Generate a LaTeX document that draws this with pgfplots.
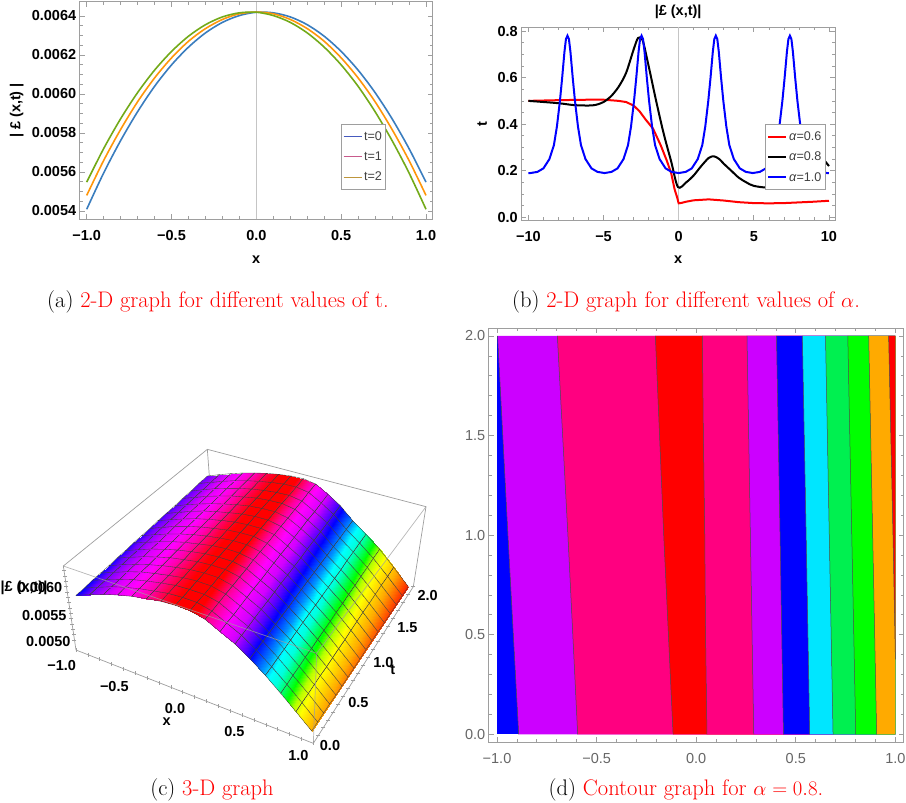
\documentclass[border=0pt]{standalone}
\usepackage{fontspec}
\usepackage{pgfplots}
\pgfplotsset{compat=1.18}
\newfontfamily\arial{Liberation Sans}
\newcommand\fB{\arial\bfseries\fontsize{14.5}{16}\selectfont}
\newcommand\fL{\arial\fontsize{12.6}{14}\selectfont}
\newcommand\fD{\arial\fontsize{14.5}{16}\selectfont}
\newcommand\fC{\fontsize{22.5}{26}\selectfont}
\definecolor{frame}{gray}{0.62}
\definecolor{cA}{RGB}{58,125,190}
\definecolor{cB}{RGB}{255,150,10}
\definecolor{cC}{RGB}{115,170,25}
\definecolor{lA}{RGB}{70,90,190}
\definecolor{lB}{RGB}{200,90,140}
\definecolor{lC}{RGB}{190,150,60}
\definecolor{cPurple}{RGB}{204,0,255}
\definecolor{cRose}{RGB}{255,0,128}
\definecolor{cCyan}{RGB}{0,230,255}
\definecolor{cGreenA}{RGB}{0,240,80}
\definecolor{cGreenB}{RGB}{0,255,0}
\definecolor{cOrange}{RGB}{255,170,0}
\pgfplotsset{
  panel/.style={
    scale only axis, axis line style={frame,line width=0.9pt},
    tick align=inside, tick style={frame,line width=0.7pt},
    major tick length=5pt, minor tick length=3pt,
    tick label style={font=\fB},
    xticklabel style={yshift=-8pt},
    legend cell align=left,
    legend image code/.code={\draw[##1] (0pt,0pt) -- (18pt,0pt);},
  },
}
\begin{document}
\begin{tikzpicture}[x=1pt,y=1pt]
\path[use as bounding box] (0,0) rectangle (906,-803);

% (a)
\begin{axis}[panel, at={(79.7pt,-219.3pt)}, anchor=south west, width=353pt, height=217.6pt,
  xmin=-1.0413, xmax=1.0395, ymin=0.0053574, ymax=0.006473,
  xtick={-1,-0.5,0,0.5,1}, xticklabels={−1.0,−0.5,0.0,0.5,1.0}, minor x tick num=4,
  ytick={0.0054,0.0056,0.0058,0.006,0.0062,0.0064},
  yticklabels={0.0054,0.0056,0.0058,0.0060,0.0062,0.0064}, minor y tick num=3,
  scaled y ticks=false,
  xlabel={x}, ylabel={| £ (x,t) |},
  every axis x label/.style={at={(axis description cs:0.5,0)},anchor=center,yshift=-40pt,font=\fB},
  every axis y label/.style={at={(axis description cs:-0.1785,0.5)},anchor=center,rotate=90,font=\fB},
  legend style={at={(axis description cs:0.7394,0.438)},anchor=north west,draw=frame,line width=0.8pt,
    font=\fL,text=black!75,row sep=6pt,inner xsep=2pt,inner ysep=5pt},
]
\addplot[frame!60,line width=0.6pt,forget plot] coordinates {(0,0.0053574)(0,0.006473)};
\addplot[cA,line width=1.6pt,smooth,forget plot] coordinates {
(-1,0.005409)(-0.9,0.005595)(-0.8,0.005761)(-0.7,0.005909)(-0.6,0.006039)(-0.5,0.006149)(-0.4,0.00624)
(-0.3,0.006313)(-0.2,0.006367)(-0.1,0.006402)(0,0.006419)(0.1,0.006416)(0.2,0.006395)(0.3,0.006355)
(0.4,0.006296)(0.5,0.006218)(0.6,0.006122)(0.7,0.006007)(0.8,0.005873)(0.9,0.00572)(1,0.005548)};
\addplot[cB,line width=1.6pt,smooth,forget plot] coordinates {
(-1,0.00548)(-0.9,0.005659)(-0.8,0.005818)(-0.7,0.00596)(-0.6,0.006082)(-0.5,0.006185)(-0.4,0.00627)
(-0.3,0.006335)(-0.2,0.006382)(-0.1,0.006411)(0,0.00642)(0.1,0.006411)(0.2,0.006382)(0.3,0.006335)
(0.4,0.00627)(0.5,0.006185)(0.6,0.006082)(0.7,0.00596)(0.8,0.005818)(0.9,0.005659)(1,0.00548)};
\addplot[cC,line width=1.6pt,smooth,forget plot] coordinates {
(-1,0.005548)(-0.9,0.00572)(-0.8,0.005873)(-0.7,0.006007)(-0.6,0.006122)(-0.5,0.006218)(-0.4,0.006296)
(-0.3,0.006355)(-0.2,0.006395)(-0.1,0.006416)(0,0.006419)(0.1,0.006402)(0.2,0.006367)(0.3,0.006313)
(0.4,0.00624)(0.5,0.006149)(0.6,0.006039)(0.7,0.005909)(0.8,0.005761)(0.9,0.005595)(1,0.005409)};
\addlegendimage{lA,line width=0.9pt}\addlegendentry{t=0\hspace{14pt}}
\addlegendimage{lB,line width=0.9pt}\addlegendentry{t=1\hspace{14pt}}
\addlegendimage{lC,line width=0.9pt}\addlegendentry{t=2\hspace{14pt}}
\end{axis}

% (b)
\begin{axis}[panel, at={(521.3pt,-220pt)}, anchor=south west, width=313.7pt, height=192.7pt,
  xmin=-10.47, xmax=10.4, ymin=-0.0116, ymax=0.8159,
  xtick={-10,-5,0,5,10}, xticklabels={−10,−5,0,5,10}, minor x tick num=4,
  ytick={0,0.2,0.4,0.6,0.8}, yticklabels={0.0,0.2,0.4,0.6,0.8}, minor y tick num=3,
  xlabel={x}, ylabel={t}, title={|£ (x,t)|},
  every axis x label/.style={at={(axis description cs:0.5,0)},anchor=center,yshift=-40pt,font=\fB},
  every axis y label/.style={at={(axis description cs:-0.1243,0.5)},anchor=center,rotate=90,font=\fB},
  every axis title/.style={at={(axis description cs:0.5,1)},anchor=center,yshift=15.3pt,font=\fB},
  legend style={at={(axis description cs:0.776,0.4966)},anchor=north west,draw=frame,line width=0.8pt,
    font=\fL,text=black!75,row sep=6pt,inner xsep=2pt,inner ysep=5pt},
]
\addplot[frame!60,line width=0.6pt,forget plot] coordinates {(0,-0.0116)(0,0.8159)};
\addplot[red,line width=2pt] coordinates {
(-10,0.5)(-8,0.503)(-6,0.505)(-5,0.505)(-4,0.5)(-3.5,0.495)(-3,0.48)(-2.6,0.455)(-2.2,0.42)(-1.7,0.38)
(-1.2,0.31)(-0.8,0.245)(-0.5,0.19)(-0.27,0.12)(-0.1,0.085)(0,0.06)(0.2,0.062)(0.5,0.067)(1,0.073)(2,0.077)
(3,0.072)(4,0.065)(5,0.061)(6,0.06)(7,0.061)(8,0.064)(9,0.067)(10,0.071)};
\addlegendentry{\textit{α}=0.6}
\addplot[black,line width=2pt,smooth] coordinates {
(-10,0.5)(-8,0.49)(-7,0.482)(-6,0.48)(-5.5,0.483)(-5,0.495)(-4.5,0.52)(-4,0.56)(-3.5,0.62)(-3,0.72)(-2.7,0.77)
(-2.4,0.76)(-2,0.65)(-1.5,0.5)(-1,0.36)(-0.5,0.24)(-0.05,0.13)(0.5,0.15)(1,0.18)(1.5,0.22)(2,0.255)(2.35,0.262)
(2.7,0.25)(3,0.23)(3.5,0.2)(4,0.17)(4.5,0.15)(5,0.135)(6,0.128)(6.5,0.15)(7,0.2)(7.5,0.29)(8,0.34)(8.5,0.33)
(9,0.3)(9.5,0.26)(10,0.22)};
\addlegendentry{\textit{α}=0.8}
\addplot[blue,line width=2pt] coordinates {
(-10,0.19)(-9.87,0.19)(-9.4,0.195)(-9,0.21)(-8.6,0.25)(-8.3,0.31)(-8.1,0.39)(-7.9,0.5)(-7.75,0.6)(-7.6,0.71)(-7.5,0.765)(-7.4,0.78)
(-7.3,0.765)(-7.2,0.71)(-7.05,0.6)(-6.9,0.5)(-6.7,0.39)(-6.5,0.31)(-6.2,0.25)(-5.8,0.21)(-5.4,0.195)(-4.93,0.19)
(-4.47,0.195)(-4.07,0.21)(-3.67,0.25)(-3.37,0.31)(-3.17,0.39)(-2.97,0.5)(-2.82,0.6)(-2.67,0.71)(-2.57,0.765)(-2.47,0.78)
(-2.37,0.765)(-2.27,0.71)(-2.12,0.6)(-1.97,0.5)(-1.77,0.39)(-1.57,0.31)(-1.27,0.25)(-0.87,0.21)(-0.47,0.195)(0,0.19)
(0.47,0.195)(0.87,0.21)(1.27,0.25)(1.57,0.31)(1.77,0.39)(1.97,0.5)(2.12,0.6)(2.27,0.71)(2.37,0.765)(2.47,0.78)
(2.57,0.765)(2.67,0.71)(2.82,0.6)(2.97,0.5)(3.17,0.39)(3.37,0.31)(3.67,0.25)(4.07,0.21)(4.47,0.195)(4.93,0.19)
(5.4,0.195)(5.8,0.21)(6.2,0.25)(6.5,0.31)(6.7,0.39)(6.9,0.5)(7.05,0.6)(7.2,0.71)(7.3,0.765)(7.4,0.78)
(7.5,0.765)(7.6,0.71)(7.75,0.6)(7.9,0.5)(8.1,0.39)(8.3,0.31)(8.6,0.25)(9,0.21)(9.4,0.195)(9.87,0.19)(10,0.19)};
\addlegendentry{\textit{α}=1.0}
\end{axis}

% (c) the box is in perspective, so the surface is given in picture coordinates (zoomed 3x)
\begin{axis}[at={(0pt,-803pt)}, anchor=south west, scale only axis, width=453pt, height=363pt,
  xmin=0, xmax=1359, ymin=0, ymax=1089, y dir=reverse, hide axis, clip=false,
  colormap={surfhue}{
    rgb255(0pt)=(0,0,255) rgb255(10pt)=(110,0,255) rgb255(30pt)=(220,0,255) rgb255(45pt)=(255,0,255)
    rgb255(60pt)=(255,0,180) rgb255(75pt)=(255,0,60) rgb255(85pt)=(255,0,0) rgb255(105pt)=(255,0,0)
    rgb255(115pt)=(255,0,150) rgb255(125pt)=(255,0,255) rgb255(135pt)=(210,0,255) rgb255(145pt)=(80,0,255)
    rgb255(150pt)=(0,0,255) rgb255(160pt)=(0,150,255) rgb255(165pt)=(0,255,255) rgb255(170pt)=(0,255,220)
    rgb255(175pt)=(0,255,110) rgb255(180pt)=(0,255,0) rgb255(185pt)=(180,255,0) rgb255(190pt)=(255,255,0)
    rgb255(200pt)=(255,170,0) rgb255(210pt)=(255,30,0)},
  point meta min=0, point meta max=210,
]
\addplot[frame,line width=0.7pt] coordinates {(228,630)(190,378)(622,28)(1278,200)(1240,440)(940,910)(228,630)};
\addplot[frame,line width=0.7pt] coordinates {(622,28)(628,108)};
\addplot[surf, shader=faceted interp, faceted color=black!75, line width=0.35pt, mesh/cols=17, point meta=explicit] coordinates {
(228,466)[0] (269,464)[12.5] (311,463)[25] (353,465)[37.5] (395,469)[50] (439,476)[62.5] (483,484)[75] (526,496)[87.5] (570,512)[100] (615,538)[112.5] (660,575)[125] (705,612)[137.5] (750,656)[150] (796,706)[162.5] (842,760)[175] (888,815)[187.5] (935,873)[200]
(253,444)[0.6] (293,442)[13.1] (335,440)[25.6] (376,442)[38.1] (418,446)[50.6] (462,453)[63.1] (505,460)[75.6] (548,472)[88.1] (591,487)[100.6] (636,513)[113.1] (680,549)[125.6] (725,586)[138.1] (769,630)[150.6] (815,680)[163.1] (861,733)[175.6] (906,788)[188.1] (953,846)[200.6]
(277,421)[1.2] (318,419)[13.7] (359,418)[26.2] (400,419)[38.7] (441,423)[51.2] (484,429)[63.7] (527,436)[76.2] (569,448)[88.7] (613,463)[101.2] (657,487)[113.7] (701,524)[126.2] (745,560)[138.7] (789,604)[151.2] (834,653)[163.7] (879,706)[176.2] (925,761)[188.7] (971,819)[201.2]
(302,399)[1.9] (342,397)[14.4] (382,395)[26.9] (423,396)[39.4] (464,400)[51.9] (507,406)[64.4] (549,413)[76.9] (591,423)[89.4] (634,438)[101.9] (677,462)[114.4] (721,498)[126.9] (764,534)[139.4] (808,578)[151.9] (853,627)[164.4] (898,679)[176.9] (943,734)[189.4] (989,792)[201.9]
(327,377)[2.5] (366,374)[15] (406,373)[27.5] (447,374)[40] (487,377)[52.5] (529,382)[65] (571,389)[77.5] (613,399)[90] (655,413)[102.5] (698,437)[115] (741,472)[127.5] (784,508)[140] (827,553)[152.5] (872,600)[165] (916,652)[177.5] (961,707)[190] (1008,765)[202.5]
(351,354)[3.1] (390,352)[15.6] (430,350)[28.1] (470,351)[40.6] (510,353)[53.1] (552,359)[65.6] (593,365)[78.1] (634,375)[90.6] (676,388)[103.1] (719,411)[115.6] (761,446)[128.1] (804,482)[140.6] (846,527)[153.1] (890,574)[165.6] (935,625)[178.1] (980,680)[190.6] (1026,738)[203.1]
(376,332)[3.8] (415,329)[16.3] (454,327)[28.8] (494,328)[41.3] (533,330)[53.8] (574,335)[66.3] (615,341)[78.8] (656,351)[91.3] (698,364)[103.8] (740,386)[116.3] (782,421)[128.8] (824,456)[141.3] (866,501)[153.8] (909,547)[166.3] (953,598)[178.8] (998,653)[191.3] (1044,711)[203.8]
(400,309)[4.4] (439,307)[16.9] (478,305)[29.4] (517,305)[41.9] (556,307)[54.4] (597,312)[66.9] (637,317)[79.4] (678,326)[91.9] (719,339)[104.4] (760,360)[116.9] (802,395)[129.4] (843,430)[141.9] (885,475)[154.4] (928,521)[166.9] (972,571)[179.4] (1016,626)[191.9] (1062,684)[204.4]
(425,287)[5] (463,284)[17.5] (502,282)[30] (541,282)[42.5] (580,284)[55] (620,288)[67.5] (660,294)[80] (700,302)[92.5] (740,314)[105] (781,335)[117.5] (822,369)[130] (863,405)[142.5] (904,449)[155] (947,495)[167.5] (991,544)[180] (1035,599)[192.5] (1080,657)[205]
(450,265)[5.6] (487,262)[18.1] (525,259)[30.6] (564,259)[43.1] (603,261)[55.6] (642,265)[68.1] (682,270)[80.6] (721,278)[93.1] (761,289)[105.6] (802,310)[118.1] (842,343)[130.6] (883,379)[143.1] (923,423)[155.6] (966,468)[168.1] (1009,517)[180.6] (1053,571)[193.1] (1098,629)[205.6]
(474,242)[6.2] (512,239)[18.7] (549,237)[31.2] (587,236)[43.7] (626,238)[56.2] (665,241)[68.7] (704,246)[81.2] (743,254)[93.7] (783,265)[106.2] (823,284)[118.7] (863,318)[131.2] (903,353)[143.7] (943,397)[156.2] (985,442)[168.7] (1028,490)[181.2] (1071,544)[193.7] (1116,602)[206.2]
(499,220)[6.9] (536,217)[19.4] (573,214)[31.9] (611,213)[44.4] (649,215)[56.9] (687,218)[69.4] (726,222)[81.9] (765,229)[94.4] (804,240)[106.9] (843,259)[119.4] (883,292)[131.9] (922,327)[144.4] (962,371)[156.9] (1004,415)[169.4] (1046,463)[181.9] (1089,517)[194.4] (1134,575)[206.9]
(524,198)[7.5] (560,194)[20] (597,192)[32.5] (634,191)[45] (672,192)[57.5] (710,194)[70] (748,198)[82.5] (786,205)[95] (825,215)[107.5] (864,234)[120] (903,266)[132.5] (942,301)[145] (981,346)[157.5] (1023,389)[170] (1065,436)[182.5] (1108,490)[195] (1153,548)[207.5]
(548,175)[8.1] (584,172)[20.6] (621,169)[33.1] (658,168)[45.6] (695,168)[58.1] (732,171)[70.6] (770,174)[83.1] (808,181)[95.6] (846,190)[108.1] (885,208)[120.6] (923,240)[133.1] (962,275)[145.6] (1000,320)[158.1] (1041,362)[170.6] (1083,409)[183.1] (1126,463)[195.6] (1171,521)[208.1]
(573,153)[8.8] (609,149)[21.3] (644,146)[33.8] (681,145)[46.3] (718,145)[58.8] (755,147)[71.3] (792,151)[83.8] (830,157)[96.3] (868,166)[108.8] (906,183)[121.3] (944,215)[133.8] (982,249)[146.3] (1020,294)[158.8] (1060,336)[171.3] (1102,382)[183.8] (1144,436)[196.3] (1189,494)[208.8]
(597,130)[9.4] (633,127)[21.9] (668,124)[34.4] (705,122)[46.9] (741,122)[59.4] (777,124)[71.9] (814,127)[84.4] (851,132)[96.9] (889,141)[109.4] (926,157)[121.9] (964,189)[134.4] (1001,223)[146.9] (1039,268)[159.4] (1079,309)[171.9] (1120,355)[184.4] (1163,409)[196.9] (1207,467)[209.4]
(622,108)[10] (657,104)[22.5] (692,101)[35] (728,99)[47.5] (764,99)[60] (800,100)[72.5] (836,103)[85] (873,108)[97.5] (910,116)[110] (947,132)[122.5] (984,163)[135] (1021,197)[147.5] (1058,242)[160] (1098,283)[172.5] (1139,328)[185] (1181,382)[197.5] (1225,440)[210]
};
\addplot[frame,line width=0.7pt,opacity=0.75] coordinates {(190,378)(950,640)(1278,200)};
\addplot[frame,line width=0.7pt,opacity=0.75] coordinates {(950,640)(940,910)};
% ticks along the box edges
\addplot[only marks,mark=|,mark size=2pt,mark options={frame,line width=0.5pt}] coordinates {
(228,630)(264,644)(299,658)(335,672)(370,686)(406,700)(442,714)(477,728)(513,742)(548,756)(584,770)
(620,784)(655,798)(691,812)(726,826)(762,840)(798,854)(833,868)(869,882)(904,896)(940,910)};
\addplot[only marks,mark=-,mark size=2pt,mark options={frame,line width=0.5pt}] coordinates {
(955,887)(970,863)(985,840)(1000,816)(1015,793)(1030,769)(1045,746)(1060,722)(1075,699)(1090,675)
(1105,652)(1120,628)(1135,605)(1150,581)(1165,558)(1180,534)(1195,511)(1210,487)(1225,464)(1240,440)};
\addplot[only marks,mark=-,mark size=2pt,mark options={frame,line width=0.5pt}] coordinates {
(223,600)(221,584)(219,568)(216,552)(214,536)(212,520)(209,504)(207,488)(204,472)(202,456)(199,440)(197,424)(195,408)(192,392)};
\node[font=\fB] at (axis cs:185,677) {−1.0};
\node[font=\fB] at (axis cs:343,740) {−0.5};
\node[font=\fB] at (axis cs:525,804) {0.0};
\node[font=\fB] at (axis cs:703,873) {0.5};
\node[font=\fB] at (axis cs:895,945) {1.0};
\node[font=\fB] at (axis cs:500,846) {x};
\node[font=\fB] at (axis cs:990,917) {0.0};
\node[font=\fB] at (axis cs:1075,786) {0.5};
\node[font=\fB] at (axis cs:1150,668) {1.0};
\node[font=\fB] at (axis cs:1222,562) {1.5};
\node[font=\fB] at (axis cs:1283,465) {2.0};
\node[font=\fB] at (axis cs:1178,690) {t};
\node[font=\fB] at (axis cs:145,605) {0.0050};
\node[font=\fB] at (axis cs:133,525) {0.0055};
\node[font=\fB] at (axis cs:120,443) {0.0060};
\node[font=\fB] at (axis cs:72,443) {|£ (x,t)|};
\end{axis}

% (d)
\begin{axis}[panel, at={(488.7pt,-742.3pt)}, anchor=south west, width=415pt, height=414.3pt,
  xmin=-1.0417, xmax=1.0417, ymin=-0.04, ymax=2.04,
  xtick={-1,-0.5,0,0.5,1}, xticklabels={−1.0,−0.5,0.0,0.5,1.0}, minor x tick num=4,
  ytick={0,0.5,1,1.5,2}, yticklabels={0.0,0.5,1.0,1.5,2.0}, minor y tick num=4,
  tick label style={font=\fD,text=black!60},
]
\addplot[fill=blue,draw=none] coordinates {(-1,0)(1,0)(1,2)(-1,2)} --cycle;
\addplot[fill=cPurple,draw=none] coordinates {(-0.891,0)(-0.945,1)(-0.997,2)(1,2)(1,0)} --cycle;
\addplot[fill=cRose,draw=none] coordinates {(-0.595,0)(-0.644,1)(-0.697,2)(1,2)(1,0)} --cycle;
\addplot[fill=red,draw=none] coordinates {(-0.116,0)(-0.163,1)(-0.205,2)(1,2)(1,0)} --cycle;
\addplot[fill=cRose,draw=none] coordinates {(0.054,0)(0.047,0.5)(0.043,1)(0.036,1.5)(0.031,2)(1,2)(1,0)} --cycle;
\addplot[fill=cPurple,draw=none] coordinates {(0.289,0)(0.272,1)(0.255,2)(1,2)(1,0)} --cycle;
\addplot[fill=blue,draw=none] coordinates {(0.438,0)(0.421,1)(0.403,2)(1,2)(1,0)} --cycle;
\addplot[fill=cCyan,draw=none] coordinates {(0.57,0)(0.552,1)(0.533,2)(1,2)(1,0)} --cycle;
\addplot[fill=cGreenA,draw=none] coordinates {(0.687,0)(0.668,1)(0.649,2)(1,2)(1,0)} --cycle;
\addplot[fill=cGreenB,draw=none] coordinates {(0.801,0)(0.781,1)(0.761,2)(1,2)(1,0)} --cycle;
\addplot[fill=cOrange,draw=none] coordinates {(0.906,0)(0.886,1)(0.866,2)(1,2)(1,0)} --cycle;
\addplot[fill=red,draw=none] coordinates {(1,0.376)(0.988,1)(0.966,2)(1,2)} --cycle;
\addplot[black!70,line width=0.5pt] coordinates {(-0.891,0)(-0.945,1)(-0.997,2)};
\addplot[black!70,line width=0.5pt] coordinates {(-0.595,0)(-0.644,1)(-0.697,2)};
\addplot[black!70,line width=0.5pt] coordinates {(-0.116,0)(-0.163,1)(-0.205,2)};
\addplot[black!70,line width=0.5pt] coordinates {(0.054,0)(0.047,0.5)(0.043,1)(0.036,1.5)(0.031,2)};
\addplot[black!70,line width=0.5pt] coordinates {(0.289,0)(0.272,1)(0.255,2)};
\addplot[black!70,line width=0.5pt] coordinates {(0.438,0)(0.421,1)(0.403,2)};
\addplot[black!70,line width=0.5pt] coordinates {(0.57,0)(0.552,1)(0.533,2)};
\addplot[black!70,line width=0.5pt] coordinates {(0.687,0)(0.668,1)(0.649,2)};
\addplot[black!70,line width=0.5pt] coordinates {(0.801,0)(0.781,1)(0.761,2)};
\addplot[black!70,line width=0.5pt] coordinates {(0.906,0)(0.886,1)(0.866,2)};
\addplot[black!70,line width=0.5pt] coordinates {(1,0.376)(0.988,1)(0.966,2)};
\end{axis}

\node[font=\fC] at (218,-302) {(a) \textcolor{red}{2-D graph for different values of t.}};
\node[font=\fC] at (686,-302) {(b) \textcolor{red}{2-D graph for different values of $\alpha$.}};
\node[font=\fC] at (212,-790) {(c) \textcolor{red}{3-D graph}};
\node[font=\fC] at (686,-790) {(d) \textcolor{red}{Contour graph for $\alpha=0.8$.}};
\end{tikzpicture}
\end{document}
